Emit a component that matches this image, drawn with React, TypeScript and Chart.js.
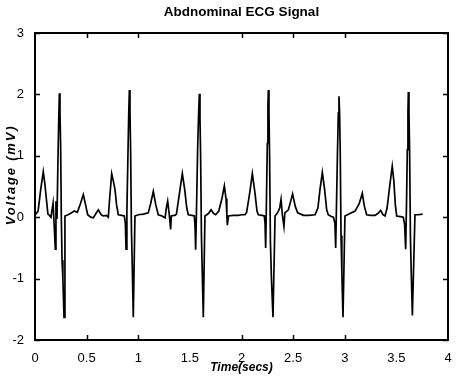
import React, { useEffect, useRef } from "react";
import { Chart, registerables } from "chart.js";
Chart.register(...registerables);

const titleText = "Abdnominal ECG Signal";
const xLabel = "Time(secs)";
const yLabel = "Voltage (mV)";

const xTicks = [0, 0.5, 1, 1.5, 2, 2.5, 3, 3.5, 4];
const xTickMarks = [0.5, 1, 2, 2.5, 3];
const yTicks = [-2, -1, 0, 1, 2, 3];

const times = [
  0.000, 0.030, 0.055, 0.080, 0.095, 0.110, 0.125, 0.140, 0.155, 0.165, 0.175, 0.185, 0.197, 0.203, 0.213,
  0.222, 0.230, 0.236, 0.242, 0.248, 0.255, 0.262, 0.270, 0.281, 0.290, 0.320, 0.350, 0.380, 0.410, 0.440,
  0.468, 0.490, 0.510, 0.540, 0.565, 0.590, 0.613, 0.640, 0.660, 0.690,
  0.710, 0.725, 0.743, 0.760, 0.775, 0.790, 0.807, 0.840, 0.865, 0.875, 0.882, 0.890, 0.900, 0.908, 0.914,
  0.920, 0.926, 0.934, 0.942, 0.952, 0.968, 1.000, 1.050, 1.097, 1.120, 1.146, 1.170, 1.194, 1.230, 1.260,
  1.272, 1.285, 1.300, 1.314, 1.320, 1.345,
  1.356, 1.370, 1.400, 1.427, 1.450, 1.470, 1.485, 1.520, 1.543, 1.550, 1.556, 1.565, 1.575, 1.585, 1.592,
  1.598, 1.604, 1.612, 1.620, 1.630, 1.646, 1.680, 1.705, 1.730, 1.750, 1.780, 1.810, 1.834, 1.850, 1.858,
  1.863, 1.873, 1.920, 1.970, 2.000, 2.034,
  2.050, 2.080, 2.105, 2.130, 2.150, 2.163, 2.200, 2.221, 2.228, 2.234, 2.242, 2.250, 2.256, 2.260, 2.266,
  2.272, 2.280, 2.290, 2.305, 2.325, 2.340, 2.357, 2.370, 2.383, 2.395, 2.411, 2.420, 2.454, 2.475, 2.495,
  2.520, 2.544, 2.600, 2.650, 2.712,
  2.740, 2.760, 2.783, 2.805, 2.825, 2.840, 2.870, 2.890, 2.905, 2.912, 2.920, 2.930, 2.938, 2.944, 2.950,
  2.956, 2.964, 2.972, 2.983, 3.002, 3.050, 3.100, 3.140, 3.170, 3.190, 3.212, 3.250, 3.293, 3.320, 3.348,
  3.370, 3.390,
  3.410, 3.435, 3.460, 3.475, 3.490, 3.503, 3.540, 3.567, 3.580, 3.590, 3.598, 3.606, 3.612, 3.616, 3.622,
  3.628, 3.636, 3.644, 3.655, 3.680, 3.710, 3.755,
];

const volts = [
  0.03, 0.10, 0.45, 0.74, 0.55, 0.30, 0.05, 0.03, 0.00, 0.12, 0.23, -0.10, -0.52, 0.26, -0.03,
  0.90, 1.60, 2.02, 1.70, 1.20, 0.00, -0.70, -1.00, -1.63, 0.02, 0.04, 0.07, 0.10, 0.08, 0.22,
  0.37, 0.20, 0.04, 0.00, -0.01, 0.06, 0.12, 0.04, 0.02, 0.03,
  0.00, 0.35, 0.71, 0.58, 0.45, 0.20, 0.04, 0.03, 0.02, -0.10, -0.52, 0.10, 1.00, 1.70, 2.07,
  1.70, 1.10, -0.20, -0.80, -1.63, 0.02, 0.04, 0.05, 0.07, 0.22, 0.42, 0.20, 0.04, 0.02, -0.01,
  0.15, 0.26, 0.05, -0.20, 0.02, 0.03,
  0.03, 0.05, 0.40, 0.71, 0.45, 0.15, 0.04, 0.03, 0.02, -0.15, -0.53, 0.20, 1.10, 1.70, 2.01,
  1.60, 1.00, -0.30, -0.90, -1.63, 0.02, 0.06, 0.12, 0.06, 0.04, 0.10, 0.30, 0.51, 0.30, 0.05,
  -0.13, 0.02, 0.03, 0.03, 0.04, 0.04,
  0.08, 0.40, 0.71, 0.40, 0.10, 0.04, 0.03, 0.02, -0.10, -0.50, 0.30, 1.20, 1.80, 2.07, 1.70,
  1.00, -0.40, -1.00, -1.63, 0.02, 0.05, 0.10, 0.15, 0.29, 0.05, -0.15, 0.07, 0.12, 0.25, 0.38,
  0.18, 0.07, 0.03, 0.03, 0.04,
  0.15, 0.45, 0.73, 0.45, 0.12, 0.04, 0.01, 0.00, -0.10, -0.50, 0.20, 1.10, 1.70, 1.97, 1.70,
  1.10, -0.30, -0.90, -1.63, 0.02, 0.06, 0.10, 0.22, 0.39, 0.18, 0.04, 0.03, 0.03, 0.06, 0.11,
  0.04, 0.02,
  0.15, 0.50, 0.83, 0.60, 0.20, 0.02, 0.01, 0.00, -0.12, -0.52, 0.20, 1.10, 1.70, 2.04, 1.70,
  1.10, -0.30, -0.90, -1.60, 0.04, 0.04, 0.05,
];

const FONT = "'Liberation Sans', Arial, sans-serif";

const framePlugin = {
  id: "matlabFrame",
  afterDraw(chart: any) {
    const { ctx, chartArea: a, scales } = chart;
    const xs = scales.x;
    const ys = scales.y;
    ctx.save();
    ctx.strokeStyle = "#000";
    ctx.lineWidth = 2;
    ctx.strokeRect(a.left, a.top, a.right - a.left, a.bottom - a.top);
    ctx.lineWidth = 1.5;
    const L = 5;
    ctx.beginPath();
    xTickMarks.forEach((v) => {
      const px = Math.round(xs.getPixelForValue(v)) + 0.5;
      ctx.moveTo(px, a.bottom);
      ctx.lineTo(px, a.bottom - L);
      ctx.moveTo(px, a.top);
      ctx.lineTo(px, a.top + L);
    });
    yTicks.forEach((v) => {
      const py = Math.round(ys.getPixelForValue(v)) + 0.5;
      ctx.moveTo(a.left, py);
      ctx.lineTo(a.left + L, py);
      ctx.moveTo(a.right, py);
      ctx.lineTo(a.right - L, py);
    });
    ctx.stroke();

    ctx.fillStyle = "#000";
    const cx = (a.left + a.right) / 2;
    ctx.textAlign = "center";
    ctx.textBaseline = "middle";
    ctx.font = `bold 13.5px ${FONT}`;
    ctx.fillText(titleText, cx, 12);
    ctx.font = `italic bold 12px ${FONT}`;
    ctx.fillText(xLabel, cx, 368);
    ctx.translate(11, 175);
    ctx.rotate(-Math.PI / 2);
    ctx.font = `italic bold 13px ${FONT}`;
    (ctx as any).letterSpacing = "1.8px";
    ctx.fillText(yLabel, 0, 0);
    ctx.restore();
  },
};

export default function App() {
  const ref = useRef<HTMLCanvasElement | null>(null);
  useEffect(() => {
    if (!ref.current) return;
    const data = times.map((t, i) => ({ x: t, y: volts[i] }));
    const chart = new Chart(ref.current, {
      type: "line",
      data: {
        datasets: [
          {
            data,
            borderColor: "#000",
            borderWidth: 1.7,
            pointRadius: 0,
            tension: 0,
            fill: false,
          },
        ],
      },
      options: {
        animation: false,
        responsive: false,
        devicePixelRatio: 1,
        layout: { padding: { left: 0, top: 33, right: 9, bottom: 0 } },
        plugins: { legend: { display: false }, tooltip: { enabled: false }, title: { display: false } },
        scales: {
          x: {
            type: "linear",
            min: 0,
            max: 4,
            afterFit: (s: any) => {
              s.height = 40;
            },
            afterBuildTicks: (s: any) => {
              s.ticks = xTicks.map((v) => ({ value: v }));
            },
            grid: { display: false },
            border: { display: false },
            ticks: {
              autoSkip: false,
              maxRotation: 0,
              padding: 3,
              color: "#000",
              font: { family: FONT, size: 13 },
              callback: (v: any) => String(v),
            },
          },
          y: {
            type: "linear",
            min: -2,
            max: 3,
            afterFit: (s: any) => {
              s.width = 35;
            },
            afterBuildTicks: (s: any) => {
              s.ticks = yTicks.map((v) => ({ value: v }));
            },
            grid: { display: false },
            border: { display: false },
            ticks: {
              autoSkip: false,
              padding: 3,
              color: "#000",
              font: { family: FONT, size: 13 },
              callback: (v: any) => String(v),
            },
          },
        },
      },
      plugins: [framePlugin],
    });
    return () => chart.destroy();
  }, []);
  return (
    <div style={{ position: "absolute", left: 0, top: 0, width: 457, height: 380, background: "#fff" }}>
      <canvas ref={ref} width={457} height={380} />
    </div>
  );
}
